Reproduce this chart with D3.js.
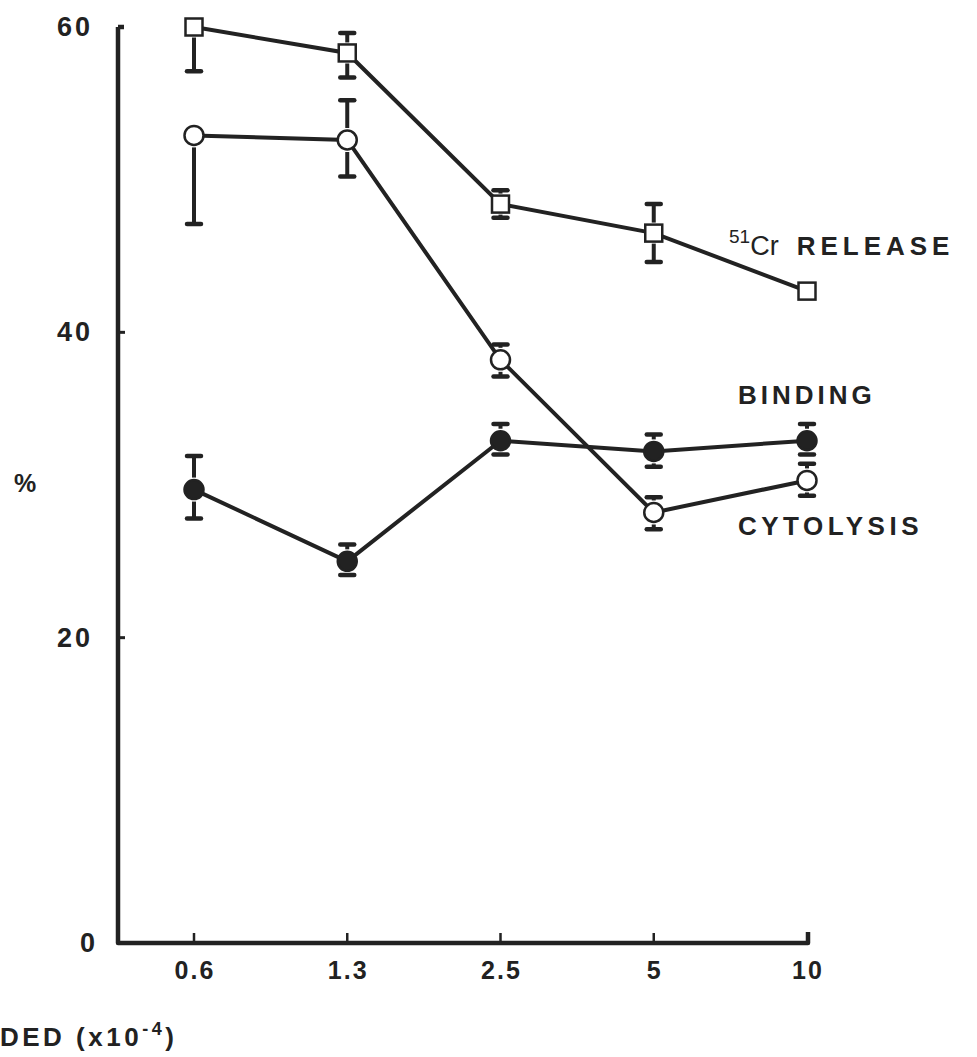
<!DOCTYPE html>
<html lang="en">
<head>
<meta charset="utf-8">
<script src="https://d3js.org/d3.v7.min.js"></script>
<style>
  body { margin: 0; background: #fff; }
  text { font-family: "Liberation Sans", Arial, sans-serif; fill: #222; }
</style>
</head>
<body>
<script>

// data //
const doses = ['0.6', '1.3', '2.5', '5', '10']
const yTicks = [0, 20, 40, 60]

// 51Cr release (open squares)
const release = [60.0, 58.3, 48.4, 46.5, 42.7]
const releaseHi = [null, 59.6, 49.3, 48.4, null]
const releaseLo = [57.1, 56.7, 47.5, 44.6, null]

// cytolysis (open circles)
const cytolysis = [52.9, 52.6, 38.2, 28.2, 30.3]
const cytolysisHi = [null, 55.2, 39.2, 29.2, 31.4]
const cytolysisLo = [47.1, 50.2, 37.1, 27.1, 29.3]

// binding (filled circles)
const binding = [29.7, 25.0, 32.9, 32.2, 32.9]
const bindingHi = [31.9, 26.1, 34.0, 33.3, 34.0]
const bindingLo = [27.8, 24.1, 32.0, 31.2, 32.0]

const width = 977, height = 1057
const ink = '#222'

const svg = d3.select('body').append('svg')
  .attr('width', width)
  .attr('height', height)

const x = d3.scalePoint().domain(doses).range([194, 807])
const y = d3.scaleLinear().domain([0, 60]).range([943, 27])

// axes
svg.append('path')
  .attr('d', 'M' + 118 + ',' + y(60) + 'H' + 124 + 'M' + 118 + ',' + y(60) + 'V' + y(0) + 'H' + 808 + 'V' + (y(0) - 11))
  .attr('fill', 'none').attr('stroke', ink).attr('stroke-width', 4.5)
  .attr('stroke-linejoin', 'round')

svg.selectAll('.ytick').data(yTicks.filter(d => d > 0 && d < 60)).enter()
  .append('line')
  .attr('x1', 118).attr('x2', 125)
  .attr('y1', d => y(d)).attr('y2', d => y(d))
  .attr('stroke', ink).attr('stroke-width', 3)

svg.selectAll('.xtick').data(doses.slice(0, 4)).enter()
  .append('line')
  .attr('x1', d => x(d)).attr('x2', d => x(d))
  .attr('y1', y(0)).attr('y2', y(0) - 10)
  .attr('stroke', ink).attr('stroke-width', 2.5)

svg.selectAll('.ylab').data(yTicks).enter()
  .append('text')
  .attr('x', d => d == 0 ? 98 : 93)
  .attr('y', d => y(d) + 9)
  .attr('text-anchor', 'end')
  .attr('font-size', 27).attr('font-weight', 'bold')
  .attr('letter-spacing', 3)
  .text(d => d)

svg.selectAll('.xlab').data(doses).enter()
  .append('text')
  .attr('x', d => x(d) + 1)
  .attr('y', 979)
  .attr('text-anchor', 'middle')
  .attr('font-size', 25).attr('font-weight', 'bold')
  .attr('letter-spacing', 2)
  .text(d => d)

svg.append('text').attr('x', 14).attr('y', 492)
  .attr('font-size', 25).attr('font-weight', 'bold').text('%')

var xt = svg.append('text').attr('x', 0).attr('y', 1046)
  .attr('font-size', 26).attr('font-weight', 'bold').attr('letter-spacing', 3.5)
xt.append('tspan').text('DED (x10')
xt.append('tspan').attr('dy', -11).attr('font-size', 18).text('-4')
xt.append('tspan').attr('dy', 11).text(')')

// series
const series = [
  {vals: release, hi: releaseHi, lo: releaseLo, shape: 'square', fill: '#fff', half: 8.5},
  {vals: cytolysis, hi: cytolysisHi, lo: cytolysisLo, shape: 'circle', fill: '#fff', half: 10},
  {vals: binding, hi: bindingHi, lo: bindingLo, shape: 'circle', fill: ink, half: 10}
]

const line = d3.line().x((d, i) => x(doses[i])).y(d => y(d))

series.forEach(function(s){
  svg.append('path')
    .attr('d', line(s.vals))
    .attr('fill', 'none').attr('stroke', ink).attr('stroke-width', 4)

  // error bars, drawn from the marker edge outwards
  var bars = []
  s.vals.forEach(function(v, i){
    if (s.hi[i] != null) bars.push({i: i, from: y(v) - s.half - 2, to: y(s.hi[i])})
    if (s.lo[i] != null) bars.push({i: i, from: y(v) + s.half + 2, to: y(s.lo[i])})
  })
  bars.forEach(function(b){
    if (Math.abs(b.to - b.from) > 3) {
      svg.append('line')
        .attr('x1', x(doses[b.i])).attr('x2', x(doses[b.i]))
        .attr('y1', b.from).attr('y2', b.to)
        .attr('stroke', ink).attr('stroke-width', 4)
    }
    svg.append('line')
      .attr('x1', x(doses[b.i]) - 7).attr('x2', x(doses[b.i]) + 7)
      .attr('y1', b.to).attr('y2', b.to)
      .attr('stroke', ink).attr('stroke-width', 4.5).attr('stroke-linecap', 'round')
  })

  if (s.shape == 'square') {
    svg.selectAll(null).data(s.vals).enter()
      .append('rect')
      .attr('x', (d, i) => x(doses[i]) - 8.5)
      .attr('y', d => y(d) - 8.5)
      .attr('width', 17).attr('height', 17)
      .attr('fill', s.fill).attr('stroke', ink).attr('stroke-width', 2.5)
  } else {
    svg.selectAll(null).data(s.vals).enter()
      .append('circle')
      .attr('cx', (d, i) => x(doses[i]))
      .attr('cy', d => y(d))
      .attr('r', 9.5)
      .attr('fill', s.fill).attr('stroke', ink).attr('stroke-width', 2.5)
  }
})

// series labels
var rl = svg.append('text').attr('x', 729).attr('y', 255).attr('font-size', 26)
rl.append('tspan').attr('dy', -12).attr('font-size', 19).text('51')
rl.append('tspan').attr('dy', 12).attr('font-size', 27).text('Cr')
rl.append('tspan').attr('dx', 18).attr('font-weight', 'bold').attr('letter-spacing', 5).text('RELEASE')

svg.append('text').attr('x', 738).attr('y', 404)
  .attr('font-size', 26).attr('font-weight', 'bold').attr('letter-spacing', 4).text('BINDING')

svg.append('text').attr('x', 738).attr('y', 535)
  .attr('font-size', 26).attr('font-weight', 'bold').attr('letter-spacing', 4.5).text('CYTOLYSIS')

</script>
</body>
</html>
